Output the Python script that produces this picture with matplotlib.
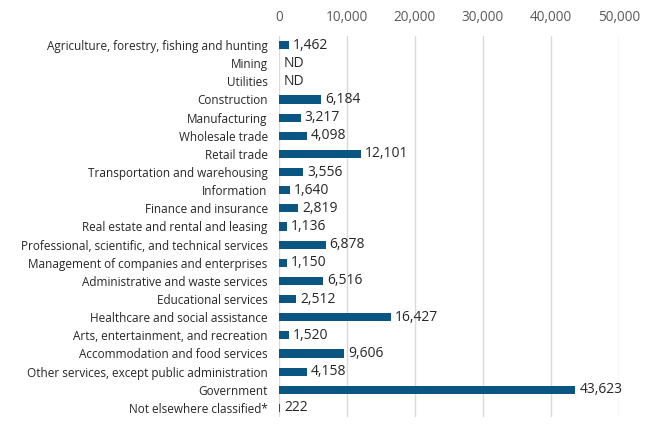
import matplotlib
matplotlib.use("Agg")
import matplotlib.pyplot as plt

plt.rcParams['font.family'] = ['Open Sans', 'DejaVu Sans']

categories = [
    "Agriculture, forestry, fishing and hunting",
    "Mining",
    "Utilities",
    "Construction",
    "Manufacturing",
    "Wholesale trade",
    "Retail trade",
    "Transportation and warehousing",
    "Information",
    "Finance and insurance",
    "Real estate and rental and leasing",
    "Professional, scientific, and technical services",
    "Management of companies and enterprises",
    "Administrative and waste services",
    "Educational services",
    "Healthcare and social assistance",
    "Arts, entertainment, and recreation",
    "Accommodation and food services",
    "Other services, except public administration",
    "Government",
    "Not elsewhere classified*",
]
values = [1462, None, None, 6184, 3217, 4098, 12101, 3556, 1640, 2819, 1136,
          6878, 1150, 6516, 2512, 16427, 1520, 9606, 4158, 43623, 222]
xticks = [0, 10000, 20000, 30000, 40000, 50000]

fig = plt.figure(figsize=(6.5, 4.33), dpi=100)
ax = fig.add_axes([0.429, 0.037, 0.523, 0.880])

color = "#0b5582"
ypos = list(range(len(categories)))
for y, v in zip(ypos, values):
    if v is None:
        ax.text(700, y, "ND", va="center", ha="left", fontsize=10, color="#262626")
    else:
        ax.barh(y, v, height=0.45, color=color, zorder=3)
        ax.text(v + 600, y, f"{v:,}", va="center", ha="left", fontsize=10, color="#262626")

ax.set_ylim(len(categories) - 0.5, -0.5)
ax.set_xlim(0, 50000)
ax.set_yticks(ypos)
ax.set_yticklabels(categories, fontsize=8.5, color="#262626")
ax.set_xticks(xticks)
ax.set_xticklabels([f"{t:,}" for t in xticks], fontsize=9.8, color="#595959")
ax.xaxis.tick_top()
ax.tick_params(axis='both', length=0)
ax.tick_params(axis='x', pad=8)
ax.tick_params(axis='y', pad=8)
for s in ax.spines.values():
    s.set_visible(False)
ax.grid(axis='x', color="#d9d9d9", linewidth=1, zorder=0)
ax.set_axisbelow(True)

fig.savefig("out.png", dpi=100)
